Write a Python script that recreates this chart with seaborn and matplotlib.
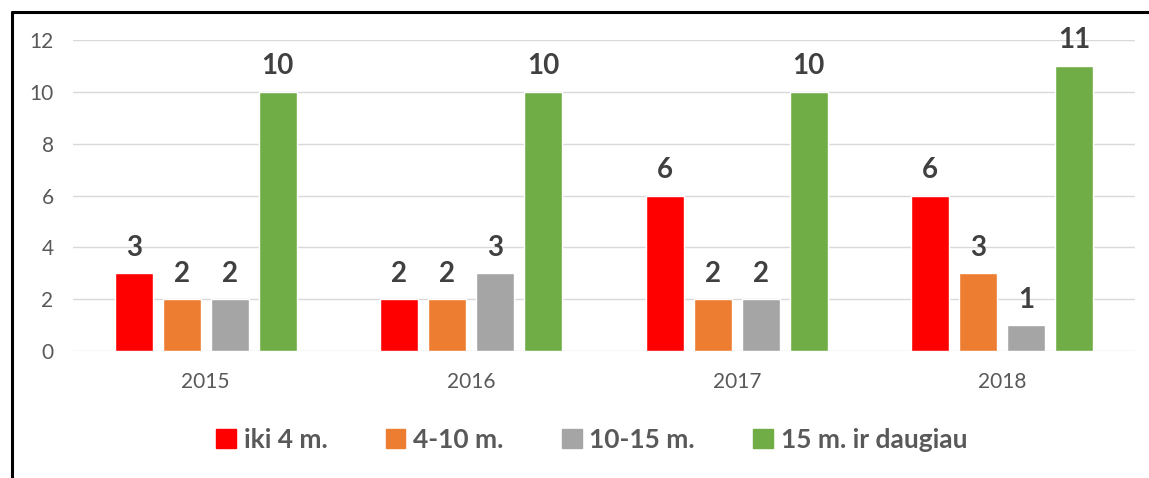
import pandas as pd
import matplotlib.pyplot as plt
import seaborn as sns
from matplotlib.lines import Line2D

# Data
years = ["2015", "2016", "2017", "2018"]
series = ["iki 4 m.", "4-10 m.", "10-15 m.", "15 m. ir daugiau"]
v_iki4 = [3, 2, 6, 6]
v_4_10 = [2, 2, 2, 3]
v_10_15 = [2, 3, 2, 1]
v_15plus = [10, 10, 10, 11]
colors = ["#FF0000", "#ED7D31", "#A5A5A5", "#70AD47"]

rows = []
for name, vals in zip(series, [v_iki4, v_4_10, v_10_15, v_15plus]):
    for y, v in zip(years, vals):
        rows.append({"year": y, "series": name, "value": v})
df = pd.DataFrame(rows)

sns.set_style("white")
plt.rcParams["font.family"] = ["Lato", "DejaVu Sans"]

W, H = 1149, 478
fig = plt.figure(figsize=(W / 100, H / 100), dpi=100)
ax = fig.add_axes([73 / W, (H - 351) / H, (1135 - 73) / W, (351 - 40) / H])

sns.barplot(data=df, x="year", y="value", hue="series", hue_order=series,
            order=years, palette=colors, width=0.723, gap=0.21,
            saturation=1, ax=ax, legend=True)

ax.set_ylim(0, 12)
ax.set_yticks(range(0, 13, 2))
ax.yaxis.grid(True, color="#D9D9D9", linewidth=1)
ax.set_axisbelow(True)
for s in ax.spines.values():
    s.set_visible(False)
ax.set_xlabel("")
ax.set_ylabel("")
ax.tick_params(axis="both", length=0, labelsize=15, labelcolor="#595959")
ax.tick_params(axis="x", pad=15)
ax.tick_params(axis="y", pad=14)

for c in ax.containers:
    ax.bar_label(c, padding=9, fontsize=20, fontweight="bold", color="#404040")

ax.legend_.remove()
handles = [plt.Rectangle((0, 0), 1, 1, color=c) for c in colors]
leg = fig.legend(handles, series, loc="center", bbox_to_anchor=(0.515, (H - 440) / H),
                 ncol=4, frameon=False, handlelength=0.75, handleheight=0.75,
                 handletextpad=0.3, columnspacing=2.2,
                 prop={"size": 19, "weight": "bold"})
for t in leg.get_texts():
    t.set_color("#595959")

# black frame (cut on right and bottom)
fig.add_artist(Line2D([11.5 / W, 11.5 / W], [0, (H - 11.5) / H], color="black",
                      linewidth=2.2, transform=fig.transFigure))
fig.add_artist(Line2D([11.5 / W, 1], [(H - 11.5) / H, (H - 11.5) / H], color="black",
                      linewidth=2.2, transform=fig.transFigure))

fig.savefig("out.png", dpi=100)
